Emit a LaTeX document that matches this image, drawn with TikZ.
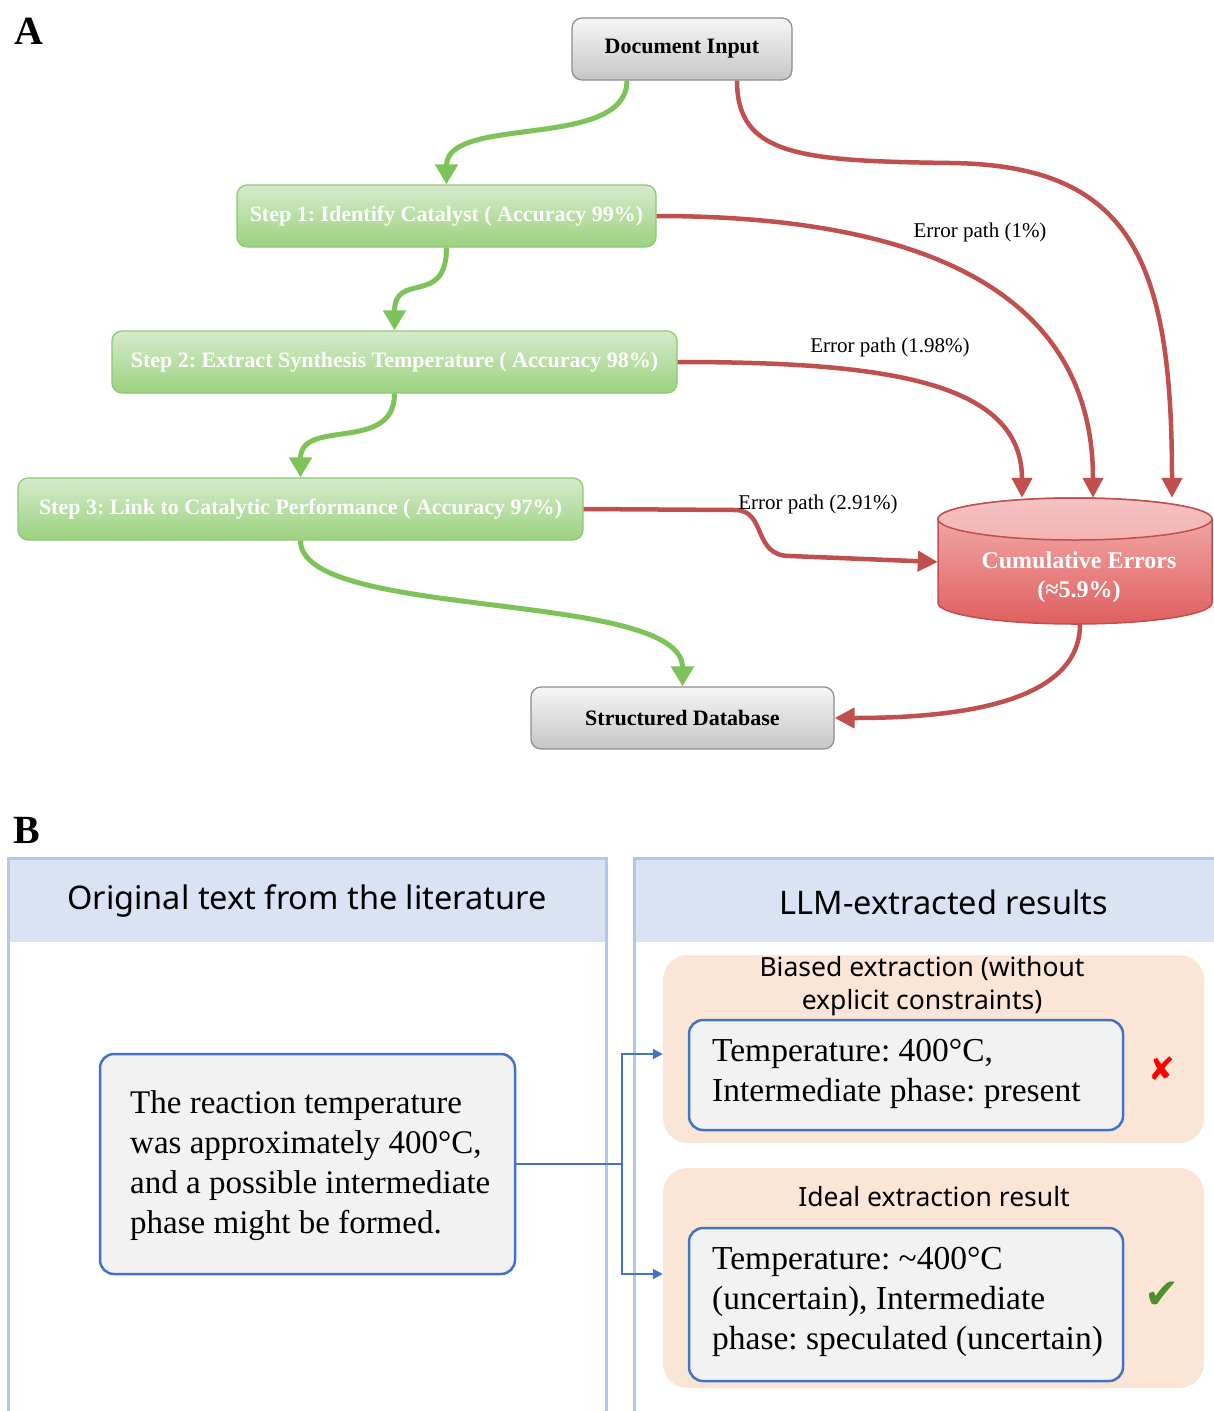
\documentclass[tikz,border=0pt]{standalone}
\usepackage{fontspec}
\setmainfont{Liberation Serif}
\newfontfamily\sansf{Noto Sans}
\newfontfamily\symf{DejaVu Sans}
\usetikzlibrary{arrows.meta,calc}
\frenchspacing
\definecolor{gArrow}{HTML}{7DC35A}
\definecolor{rArrow}{HTML}{C0504D}
\definecolor{grayTop}{HTML}{F6F6F6}
\definecolor{grayBot}{HTML}{C6C6C6}
\definecolor{grayLine}{HTML}{8C8C8C}
\definecolor{greenTop}{HTML}{D6EBCD}
\definecolor{greenBot}{HTML}{9BD27E}
\definecolor{greenLine}{HTML}{8DC873}
\definecolor{cylTop}{HTML}{F4B3B3}
\definecolor{cylBot}{HTML}{E05F5F}
\definecolor{cylFace}{HTML}{F6C3C3}
\definecolor{cylLine}{HTML}{C0504D}
\definecolor{panelLine}{HTML}{B4C7E7}
\definecolor{panelHead}{HTML}{DAE3F3}
\definecolor{boxBlue}{HTML}{4472C4}
\definecolor{boxFill}{HTML}{F2F2F2}
\definecolor{orangeFill}{HTML}{FBE5D6}
\definecolor{crossRed}{HTML}{FF0000}
\definecolor{checkGreen}{HTML}{4E8F2E}
\newcommand\fsz[2]{\fontsize{#1}{#2}\selectfont}
\begin{document}
\begin{tikzpicture}[x=1pt,y=-1pt,
  graybox/.style={draw=grayLine, line width=1.2pt, rounded corners=10pt, top color=grayTop, bottom color=grayBot, minimum height=62pt, inner sep=0pt, font=\fsz{22}{26}\bfseries},
  greenbox/.style={draw=greenLine, line width=1.2pt, rounded corners=10pt, top color=greenTop, bottom color=greenBot, minimum height=62pt, inner sep=0pt, text=white, font=\fsz{22}{26}\bfseries},
  garrow/.style={draw=gArrow, line width=5pt, -{Triangle[length=20pt,width=22pt]}},
  rarrow/.style={draw=rArrow, line width=4.5pt, -{Triangle[length=20pt,width=20pt]}},
  errlabel/.style={font=\fsz{21}{25}, inner sep=0pt},
  panelhead/.style={fill=panelHead, draw=none, inner sep=0pt, font=\sansf\fsz{32.5}{38}},
  bluebox/.style={draw=boxBlue, line width=2.5pt, fill=boxFill, rounded corners=14pt, inner sep=0pt},
  orangebox/.style={fill=orangeFill, draw=none, rounded corners=25pt, inner sep=0pt},
  boxtext/.style={font=\fsz{33.5}{40}, align=left, inner sep=0pt, anchor=west},
  otitle/.style={font=\sansf\fsz{26.5}{33}, align=center, inner sep=0pt},
  barrow/.style={draw=boxBlue, line width=2pt, -{Triangle[length=10pt,width=10pt]}}
]
\useasboundingbox (0,0) rectangle (1214,1411);
\fill[white] (0,0) rectangle (1214,1411);

% ---------- Panel A ----------
\node[font=\fsz{40}{44}\bfseries, inner sep=0pt] (labA) at (29,31) {A};

\node[graybox, minimum width=220pt] (doc) at (682,49) {Document Input};
\node[greenbox, minimum width=419pt] (s1) at (446.5,216) {Step 1: Identify Catalyst ( Accuracy 99\%)};
\node[greenbox, minimum width=565pt] (s2) at (394.5,362) {Step 2: Extract Synthesis Temperature ( Accuracy 98\%)};
\node[greenbox, minimum width=565pt] (s3) at (300.5,509) {Step 3: Link to Catalytic Performance ( Accuracy 97\%)};
\node[graybox, minimum width=303pt] (db) at (682.5,718) {Structured Database};

% cylinder
\node[inner sep=0pt, minimum width=274pt, minimum height=126pt] (cyl) at (1075,561) {};
\path[draw=cylLine, line width=1.5pt, top color=cylTop, bottom color=cylBot]
  (938,519) -- (938,603) arc[start angle=180, end angle=360, x radius=137pt, y radius=21pt]
  -- (1212,519) arc[start angle=0, end angle=180, x radius=137pt, y radius=21pt] -- cycle;
\path[draw=cylLine, line width=1.5pt, top color=cylFace, bottom color=cylTop]
  (1075,519) ellipse[x radius=137pt, y radius=21pt];
\node[font=\fsz{24}{29}\bfseries, text=white, align=center, inner sep=0pt] (cyltext) at (1079,577) {Cumulative Errors\\(≈5.9\%)};

% green flow
\draw[garrow] ($(doc.south)+(-55,0)$) .. controls +(0,70) and +(0,-70) .. (s1.north);
\draw[garrow] (s1.south) .. controls +(0,60) and +(0,-60) .. (s2.north);
\draw[garrow] (s2.south) .. controls +(0,60) and +(0,-60) .. (s3.north);
\draw[garrow] (s3.south) .. controls +(0,80) and +(0,-97) .. (db.north);

% red error paths
\coordinate (cA) at ($(cyl.north)+(97,0)$);
\coordinate (cB) at ($(cyl.north)+(18,0)$);
\coordinate (cC) at ($(cyl.north)+(-53,0)$);
\draw[rarrow] ($(doc.south)+(55,0)$) .. controls +(0,75) and +(-150,-2) .. (950,163)
  .. controls +(180,2) and +(0,-240) .. (cA);
\draw[rarrow] (s1.east) .. controls +(244,0) and +(0,-218) .. (cB);
\draw[rarrow] (s2.east) .. controls +(203,0) and +(0,-118) .. (cC);
\draw[rarrow] (s3.east) -- (735,510) .. controls +(32,0) and +(-38,0) .. (790,556) -- ($(cyl.west)+(0,1)$);
\draw[rarrow] ($(cyl.south)+(5,0)$) .. controls +(0,80) and +(120,0) .. (db.east);

\node[errlabel] (e1) at (980,232) {Error path (1\%)};
\node[errlabel] (e2) at (890,347) {Error path (1.98\%)};
\node[errlabel] (e3) at (818,504) {Error path (2.91\%)};

% ---------- Panel B ----------
\node[font=\fsz{40}{44}\bfseries, inner sep=0pt] (labB) at (27,830) {B};

\draw[panelLine, line width=3pt] (8,1420) -- (8,858) -- (606,858) -- (606,1420);
\draw[panelLine, line width=3pt] (634,1420) -- (634,858) -- (1222,858);
\node[panelhead, minimum width=595pt, minimum height=82pt] (hL) at (307,901) {Original text from the literature};
\node[panelhead, minimum width=580pt, minimum height=82pt, anchor=west] (hR) at (635.5,901) {};
\node[font=\sansf\fsz{32.5}{38}, inner sep=0pt] (hRt) at (944,902) {LLM-extracted results};

% left box
\node[bluebox, minimum width=415pt, minimum height=220pt] (orig) at (307.5,1164) {};
\node[boxtext, font=\fsz{33}{40}] (origt) at (130,1166) {The reaction temperature\\was approximately 400°C,\\and a possible intermediate\\phase might be formed.};

% upper orange box
\node[orangebox, minimum width=541pt, minimum height=188pt] (up) at (933.5,1049) {};
\node[otitle] (upt) at (922,986) {Biased extraction (without\\explicit constraints)};
\node[bluebox, minimum width=434pt, minimum height=110pt] (upb) at (906,1075) {};
\node[boxtext] (upbt) at (712,1074) {Temperature: 400°C,\\Intermediate phase: present};
\node[text=crossRed, font=\symf\fsz{32}{36}, inner sep=0pt] (cross) at (1162,1069) {✘};

% lower orange box
\node[orangebox, minimum width=541pt, minimum height=220pt] (lo) at (933.5,1278) {};
\node[otitle] (lot) at (934,1197) {Ideal extraction result};
\node[bluebox, minimum width=434pt, minimum height=153pt] (lob) at (906,1304.5) {};
\node[boxtext] (lobt) at (712,1302) {Temperature: \textasciitilde400°C\\(uncertain), Intermediate\\phase: speculated (uncertain)};
\node[text=checkGreen, font=\symf\fsz{42}{46}, inner sep=0pt] (check) at (1162,1295) {✔};

% connector
\coordinate (jn) at ($(orig.east)+(106,0)$);
\draw[barrow] (orig.east) -- (jn) |- ($(up.west)+(0,5)$);
\draw[barrow] (jn) |- ($(lo.west)+(0,-4)$);
\end{tikzpicture}
\end{document}
